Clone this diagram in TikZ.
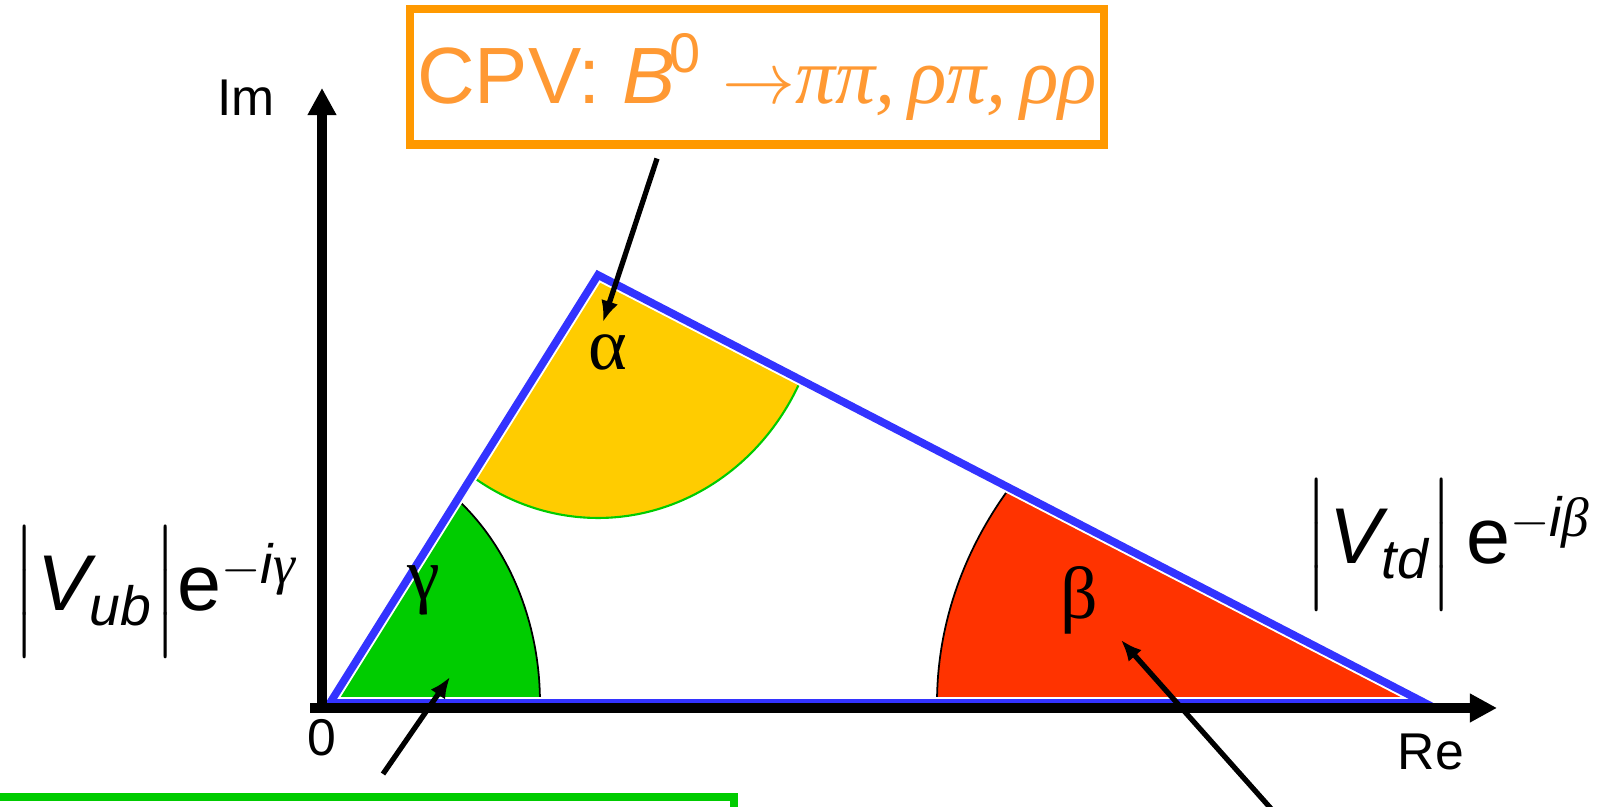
\documentclass[tikz,border=0pt]{standalone}
\usepackage{amsmath}
\usepackage{fontspec}
\setmainfont{Liberation Sans}
\newfontfamily\greekserif{Liberation Serif}
\usetikzlibrary{arrows.meta,calc}
\definecolor{SideBlue}{HTML}{3333FF}
\definecolor{AlphaGold}{HTML}{FFCC00}
\definecolor{GammaGreen}{HTML}{00CC00}
\definecolor{BetaRed}{HTML}{FF3300}
\definecolor{BoxOrange}{HTML}{FF9900}
\definecolor{TextOrange}{HTML}{FF9933}

\begin{document}
\begin{tikzpicture}[x=0.01cm,y=0.01cm,every node/.style={inner sep=0pt},axis/.style={line width=2.7pt,-{Triangle[length=7.7pt,width=7.7pt]}},pointer/.style={-{Latex[length=6pt,width=5pt]},line width=1.5pt},axislabel/.style={font=\fontsize{14.7}{17}\selectfont},greeklabel/.style={font=\fontsize{21}{25}\selectfont\greekserif},modlabel/.style={font=\fontsize{22.5}{27}\selectfont}]
\useasboundingbox (0,0) rectangle (1602,807);
\clip (0,0) rectangle (1602,807);
\fill[white] (0,0) rectangle (1602,807);

\coordinate (O) at (330,104); \coordinate (A) at (598,532); \coordinate (C) at (1425,104); \coordinate (origin) at (322,99);
\fill[GammaGreen] (O) -- ++(210,0) arc[start angle=0,end angle=52.6,x radius=210,y radius=256] -- cycle;
\draw[line width=0.5pt] ($(O)+(210,0)$) arc[start angle=0,end angle=52.6,x radius=210,y radius=256];
\fill[AlphaGold] (A) -- ++(235.9:225 and 243) arc[start angle=235.9,end angle=334.3,x radius=225,y radius=243] -- cycle;
\draw[GammaGreen,line width=0.6pt] ($(A)+(235.9:225 and 243)$) arc[start angle=235.9,end angle=334.3,x radius=225,y radius=243];
\fill[BetaRed] (C) -- ++(148.2:488 and 410) arc[start angle=148.2,end angle=180,x radius=488,y radius=410] -- cycle;
\draw[line width=0.5pt] ($(C)+(148.2:488 and 410)$) arc[start angle=148.2,end angle=180,x radius=488,y radius=410];
\draw[white,line width=3.3pt,line join=miter] (O) -- (A) -- (C) -- cycle;
\draw[SideBlue,line width=2.2pt,line join=miter] (O) -- (A) -- (C) -- cycle;

\draw[axis] ($(origin)+(-12,0)$) -- (1497,99); \draw[axis] (origin) -- (322,719);
\node[axislabel] (im) at (246,709) {Im}; \node[axislabel] (re) at (1431,55) {Re}; \node[axislabel] (zero) at (322,69) {0};

\node[greeklabel] (alphalab) at (608,455) {α}; \node[greeklabel] (gammalab) at (424,217) {γ}; \node[greeklabel] (betalab) at (1079,207) {β};
\node[modlabel,anchor=west] (vub) at (12,215) {$\Bigl|\text{\itshape V}_{\text{\itshape ub}}\Bigr|\text{e}^{-\text{\itshape i}\text{\greekserif\itshape γ}}$};
\node[modlabel,anchor=east] (vtd) at (1592,262) {$\Bigl|\text{\itshape V}_{\text{\itshape td}}\Bigr|\,\text{e}^{-\text{\itshape i}\text{\greekserif\itshape β}}$};

\node[draw=BoxOrange,line width=2.3pt,minimum width=6.93cm,minimum height=1.35cm,text=TextOrange,font=\fontsize{22.7}{27}\selectfont] (cpv) at (757,730) {CPV: $\text{\itshape B}^{\mkern-2mu\text{0}}\;{\rightarrow}\text{\greekserif\itshape ππ,\,ρπ,\,ρρ}$};
\draw[draw=GammaGreen,line width=2.3pt] (-20,-100) rectangle (734,10);

\coordinate (atip) at (603,485); \coordinate (gtail) at (383,33); \coordinate (gtip) at (450,130); \coordinate (btail) at (1274,-5); \coordinate (btip) at (1121,167);
\draw[pointer] ($(cpv.south)+(-100,-10)$) -- (atip); \draw[pointer] (gtail) -- (gtip); \draw[pointer] (btail) -- (btip);

\end{tikzpicture}
\end{document}
